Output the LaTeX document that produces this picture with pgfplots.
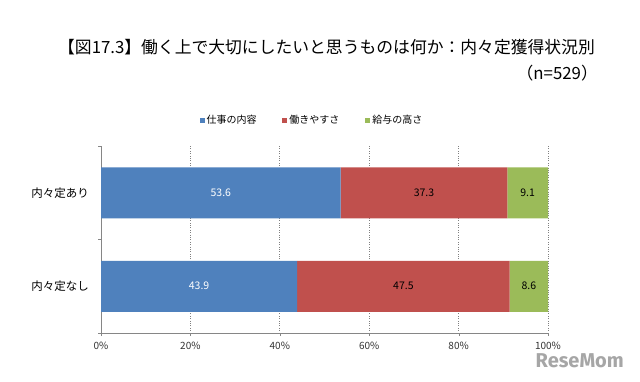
\documentclass[border=0pt]{standalone}
\usepackage{pgfplots}
\pgfplotsset{compat=1.18}
\usepackage{fontspec}
\setmainfont{Noto Sans CJK JP}
\newfontfamily\logofont{Fira Sans}
\definecolor{cblue}{HTML}{4F81BD}
\definecolor{cred}{HTML}{C0504D}
\definecolor{cgreen}{HTML}{9BBB59}
\definecolor{axgray}{HTML}{868686}
\begin{document}
\begin{tikzpicture}[x=1bp,y=1bp]
\path[use as bounding box, fill=white] (0,0) rectangle (640,381);
\node[anchor=east, font=\fontsize{16.8bp}{18bp}\selectfont, inner sep=0pt] at (595,334) {【図17.3】働く上で大切にしたいと思うものは何か：内々定獲得状況別};
\node[anchor=east, font=\fontsize{16.8bp}{18bp}\selectfont, inner sep=0pt] at (598,308) {（n=529）};
\begin{axis}[
  at={(101bp,48bp)}, anchor=south west,
  width=447bp, height=187bp, scale only axis,
  xbar stacked, bar width=51bp,
  xmin=0, xmax=100, ymin=-0.5, ymax=1.5,
  xtick={0,20,40,60,80,100},
  xticklabel={\pgfmathprintnumber{\tick}\%},
  /pgf/number format/assume math mode=true,
  xticklabel style={font=\fontsize{10bp}{12bp}\selectfont, text=black!80, yshift=-3bp},
  ytick={0,1}, yticklabels={内々定なし,内々定あり},
  yticklabel style={font=\fontsize{11.5bp}{13bp}\selectfont, inner sep=0pt, xshift=-9bp},
  minor ytick={-0.5,0.5,1.5},
  tick align=outside,
  major tick length=3bp, minor tick length=3bp,
  y tick style={draw=none},
  minor y tick style={draw=axgray},
  x tick style={draw=axgray},
  axis x line*=bottom, axis y line*=left,
  axis line style={-, draw=axgray, line width=0.9pt},
  xmajorgrids, major x grid style={dotted, draw=gray, line width=0.8pt},
  point meta=explicit,
  nodes near coords,
  nodes near coords style={font=\fontsize{10.5bp}{12bp}\selectfont, anchor=center},
  legend style={at={(0.472,1.139)}, anchor=center, draw=none, fill=none,
    legend columns=3, font=\fontsize{10bp}{12bp}\selectfont,
    /tikz/every even column/.append style={column sep=24bp}},
  legend image code/.code={\fill[#1] (0bp,-2.5bp) rectangle (5bp,2.5bp);},
]
\addplot[fill=cblue, draw=none, nodes near coords style={text=white}] coordinates {(43.9,0) [43.9] (53.6,1) [53.6]};
\addplot[fill=cred, draw=none, nodes near coords style={text=black}] coordinates {(47.5,0) [47.5] (37.3,1) [37.3]};
\addplot[fill=cgreen, draw=none, nodes near coords style={text=black}] coordinates {(8.6,0) [8.6] (9.1,1) [9.1]};
\legend{仕事の内容,働きやすさ,給与の高さ}
\end{axis}
\node[anchor=east, font=\logofont\bfseries\fontsize{20bp}{22bp}\selectfont, text=gray!70, inner sep=0pt] at (624,20) {ReseMom};
\end{tikzpicture}
\end{document}
